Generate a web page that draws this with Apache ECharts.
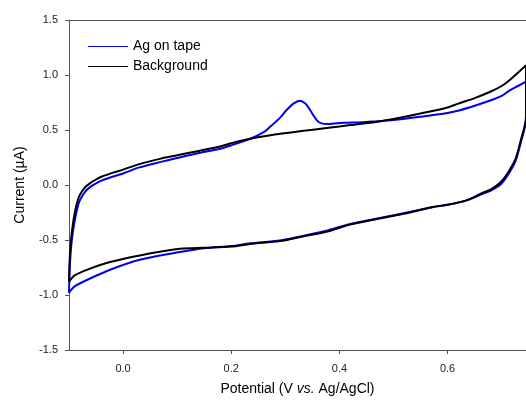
<!DOCTYPE html>
<html>
<head>
<meta charset="utf-8">
<script src="https://cdn.jsdelivr.net/npm/echarts@6/dist/echarts.min.js"></script>
<style>
  html, body { margin: 0; padding: 0; background: #fff; }
  #chart { width: 526px; height: 400px; }
</style>
</head>
<body>
<div id="chart"></div>
<script>
// Cyclic voltammograms: potential (V vs. Ag/AgCl) and current (µA),
// forward sweep followed by the reverse sweep.
const agPotential = [
  -0.1, -0.099, -0.097, -0.094, -0.09, -0.085, -0.08, -0.07, -0.06, -0.05, -0.04, -0.02, 0.0, 0.03, 0.07,
  0.1, 0.14, 0.18, 0.2, 0.235,
  0.26, 0.272, 0.29, 0.302, 0.315, 0.327, 0.337, 0.346, 0.358, 0.367, 0.38, 0.407, 0.44, 0.47, 0.5,
  0.55, 0.6, 0.623, 0.65, 0.68, 0.7, 0.715, 0.73, 0.745,
  0.745, 0.735, 0.725, 0.71, 0.697, 0.68, 0.665, 0.635, 0.6, 0.573, 0.53, 0.51, 0.42, 0.38, 0.33,
  0.29, 0.235, 0.2, 0.15, 0.105, 0.031, -0.024, -0.061, -0.089, -0.1
];
const agCurrent = [
  -0.98, -0.8, -0.62, -0.47, -0.34, -0.22, -0.14, -0.06, -0.015, 0.015, 0.04, 0.075, 0.105, 0.16, 0.21,
  0.245, 0.29, 0.33, 0.36, 0.42,
  0.48, 0.53, 0.61, 0.68, 0.74, 0.766, 0.74, 0.68, 0.59, 0.56, 0.555, 0.565, 0.57, 0.58, 0.59,
  0.62, 0.655, 0.68, 0.72, 0.77, 0.81, 0.86, 0.9, 0.94,
  0.6, 0.38, 0.21, 0.08, 0.0, -0.05, -0.08, -0.14, -0.18, -0.2, -0.245, -0.265, -0.355, -0.41, -0.465,
  -0.505, -0.53, -0.555, -0.575, -0.61, -0.68, -0.77, -0.85, -0.92, -0.98
];

const bgPotential = [
  -0.1, -0.099, -0.097, -0.094, -0.09, -0.085, -0.08, -0.07, -0.06, -0.05, -0.04, -0.02, 0.0, 0.03, 0.07,
  0.1, 0.14, 0.18, 0.2, 0.235,
  0.27, 0.33, 0.38, 0.42, 0.47, 0.5, 0.55, 0.6, 0.62, 0.65, 0.68, 0.7, 0.715, 0.73, 0.745,
  0.745, 0.735, 0.725, 0.71, 0.697, 0.68, 0.665, 0.635, 0.6, 0.573, 0.53, 0.51, 0.42, 0.38, 0.33,
  0.29, 0.235, 0.2, 0.15, 0.105, 0.031, -0.024, -0.061, -0.089, -0.1
];
const bgCurrent = [
  -0.88, -0.7, -0.54, -0.4, -0.27, -0.16, -0.09, -0.02, 0.02, 0.05, 0.075, 0.11, 0.14, 0.19, 0.24,
  0.27, 0.31, 0.35, 0.38, 0.42,
  0.45, 0.49, 0.52, 0.545, 0.575, 0.6, 0.65, 0.705, 0.74, 0.79, 0.85, 0.9, 0.955, 1.02, 1.09,
  0.62, 0.4, 0.23, 0.1, 0.02, -0.04, -0.07, -0.14, -0.18, -0.2, -0.25, -0.27, -0.36, -0.42, -0.47,
  -0.51, -0.536, -0.56, -0.57, -0.58, -0.64, -0.70, -0.76, -0.82, -0.88
];

const xTicks = [0.0, 0.2, 0.4, 0.6];
const yTicks = [-1.5, -1.0, -0.5, 0.0, 0.5, 1.0, 1.5];

const seriesNames = ['Ag on tape', 'Background'];
const seriesColors = ['#0000ee', '#000000'];

function pairs(xs, ys) {
  return xs.map((x, i) => [x, ys[i]]);
}

const FONT = '"Liberation Sans", Arial, sans-serif';
const AXIS_COLOR = '#555';

const chart = echarts.init(document.getElementById('chart'), null, { renderer: 'canvas' });

chart.setOption({
  animation: false,
  backgroundColor: '#fff',
  grid: {
    left: 69, right: 0, top: 20, bottom: 50,
    containLabel: false,
    outerBoundsMode: 'none'
  },
  legend: {
    orient: 'vertical',
    left: 83,
    top: 34,
    icon: 'rect',
    itemWidth: 40,
    itemHeight: 1,
    itemGap: 5,
    data: seriesNames.map((name, i) => ({
      name,
      itemStyle: { color: seriesColors[i] }
    })),
    textStyle: {
      fontFamily: FONT,
      fontSize: 14,
      color: '#000',
      lineHeight: 15
    }
  },
  xAxis: [
    {
      type: 'value',
      min: -0.1,
      max: 0.745,
      position: 'bottom',
      name: '{n|Potential (V }{i|vs.}{n| Ag/AgCl)}',
      nameLocation: 'middle',
      nameGap: 32,
      nameTextStyle: {
        rich: {
          n: { fontFamily: FONT, fontSize: 14, color: '#000' },
          i: { fontFamily: FONT, fontSize: 14, color: '#000', fontStyle: 'italic' }
        }
      },
      splitLine: { show: false },
      axisLine: { show: true, onZero: false, lineStyle: { color: AXIS_COLOR, width: 1 } },
      axisTick: { show: true, length: 4, lineStyle: { color: AXIS_COLOR }, customValues: xTicks },
      axisLabel: {
        customValues: xTicks,
        margin: 13,
        fontFamily: FONT,
        fontSize: 11,
        color: '#222',
        formatter: v => v.toFixed(1)
      }
    },
    {
      type: 'value',
      min: -0.1,
      max: 0.745,
      position: 'top',
      splitLine: { show: false },
      axisLine: { show: true, onZero: false, lineStyle: { color: AXIS_COLOR, width: 1 } },
      axisTick: { show: false },
      axisLabel: { show: false }
    }
  ],
  yAxis: {
    type: 'value',
    min: -1.5,
    max: 1.5,
    interval: 0.5,
    name: 'Current (µA)',
    nameLocation: 'middle',
    nameGap: 42,
    nameTextStyle: { fontFamily: FONT, fontSize: 14, color: '#000' },
    splitLine: { show: false },
    axisLine: { show: true, onZero: false, lineStyle: { color: AXIS_COLOR, width: 1 } },
    axisTick: { show: true, length: 4, lineStyle: { color: AXIS_COLOR }, customValues: yTicks },
    axisLabel: {
      customValues: yTicks,
      margin: 11,
      fontFamily: FONT,
      fontSize: 11,
      color: '#222',
      formatter: v => v.toFixed(1)
    }
  },
  series: [
    {
      name: seriesNames[0],
      type: 'line',
      xAxisIndex: 0,
      data: pairs(agPotential, agCurrent),
      smooth: 0.3,
      showSymbol: false,
      symbol: 'none',
      clip: true,
      itemStyle: { color: seriesColors[0] },
      lineStyle: { color: seriesColors[0], width: 2 },
      z: 2
    },
    {
      name: seriesNames[1],
      type: 'line',
      xAxisIndex: 0,
      data: pairs(bgPotential, bgCurrent),
      smooth: 0.3,
      showSymbol: false,
      symbol: 'none',
      clip: true,
      itemStyle: { color: seriesColors[1] },
      lineStyle: { color: seriesColors[1], width: 2 },
      z: 3
    }
  ]
});
</script>
</body>
</html>
